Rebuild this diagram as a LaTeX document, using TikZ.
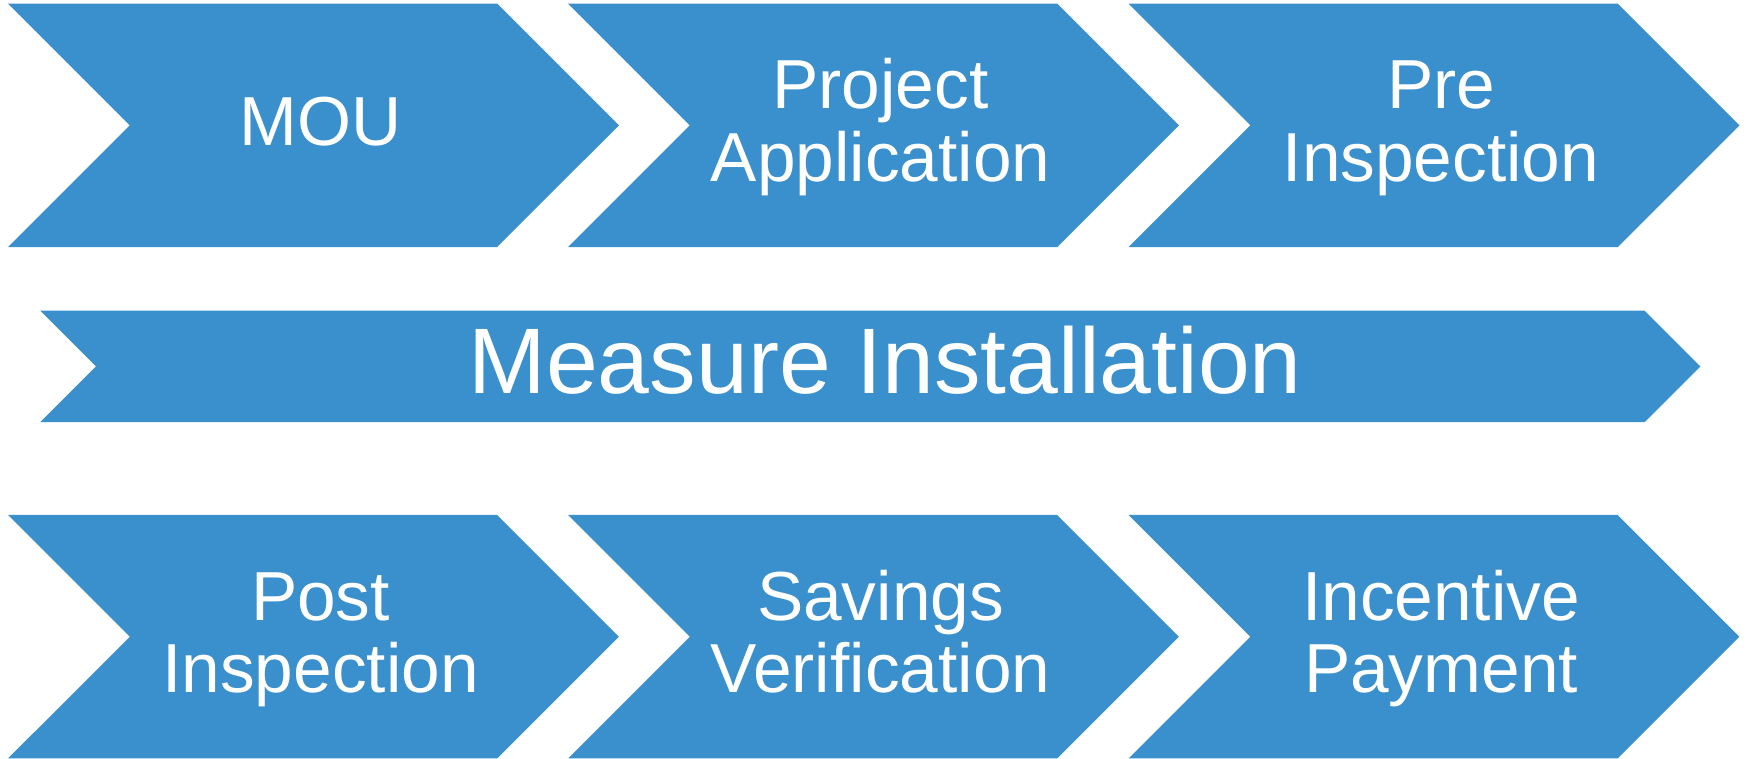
\documentclass[tikz,border=0pt]{standalone}
\usepackage{fontspec}
\setmainfont{Liberation Sans}
\usetikzlibrary{shapes.symbols}
\definecolor{stepblue}{RGB}{58,143,205}
% fixed line box so that one- and two-line labels sit alike
\newcommand{\stepstrut}{\rule[-0.3cm]{0pt}{1.392cm}}

\begin{document}
\begin{tikzpicture}[
    x=0.02cm, y=-0.02cm,
    chevron/.style={signal, signal from=west, signal to=east, signal pointer angle=90,
        fill=stepblue, draw=none, inner sep=0pt, minimum width=12.22cm, minimum height=4.87cm},
    longchevron/.style={chevron, minimum width=33.21cm, minimum height=2.23cm},
    steplabel/.style={text=white, align=center, inner sep=0pt, xshift=0.14cm,
        font=\fontsize{39.5}{41.2}\selectfont},
    biglabel/.style={steplabel, xshift=0.16cm, yshift=0.12cm,
        font=\fontsize{53}{56}\selectfont}
]
\useasboundingbox (0,0) rectangle (1748,758);

% Top row
\node[chevron, label={[steplabel]center:\stepstrut MOU}] (mou) at (313.5,125.3) {};
\node[chevron, label={[steplabel]center:{\stepstrut Project\\\stepstrut Application}}] (application) at (873.5,125.3) {};
\node[chevron, label={[steplabel]center:{\stepstrut Pre\\\stepstrut Inspection}}] (preinspect) at (1434,125.3) {};

% Middle step
\node[longchevron, label={[biglabel]center:Measure Installation}] (install) at (870.3,366.4) {};

% Bottom row
\node[chevron, label={[steplabel]center:{\stepstrut Post\\\stepstrut Inspection}}] (postinspect) at (313.5,636.7) {};
\node[chevron, label={[steplabel]center:{\stepstrut Savings\\\stepstrut Verification}}] (verify) at (873.5,636.7) {};
\node[chevron, label={[steplabel]center:{\stepstrut Incentive\\\stepstrut Payment}}] (payment) at (1434,636.7) {};

\end{tikzpicture}
\end{document}
